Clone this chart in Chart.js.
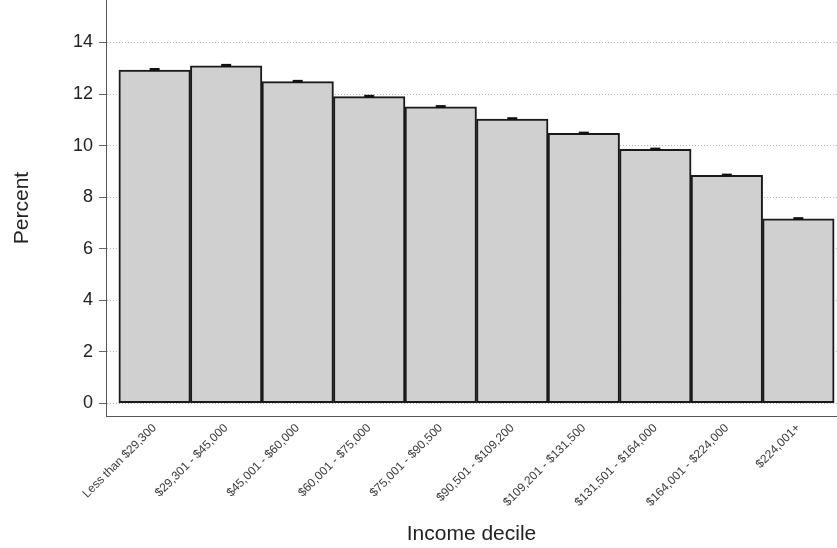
<!DOCTYPE html>
<html>
<head>
<meta charset="utf-8">
<script src="https://cdn.jsdelivr.net/npm/chart.js@4"></script>
<style>
  html, body { margin: 0; padding: 0; background: #fff; }
  #wrap { width: 837px; height: 548px; }
</style>
</head>
<body>
<div id="wrap"><canvas id="c" width="837" height="548"></canvas></div>
<script>
const categories = ["Less than $29,300", "$29,301 - $45,000", "$45,001 - $60,000", "$60,001 - $75,000",
  "$75,001 - $90,500", "$90,501 - $109,200", "$109,201 - $131,500", "$131,501 - $164,000",
  "$164,001 - $224,000", "$224,001+"];
const percentValues = [12.93, 13.09, 12.48, 11.90, 11.50, 11.03, 10.47, 9.85, 8.84, 7.15];
const errorValues = [0.06, 0.06, 0.05, 0.05, 0.05, 0.05, 0.05, 0.05, 0.05, 0.05];
const yTicks = [0, 2, 4, 6, 8, 10, 12, 14];

const FONT = "'Liberation Sans', Arial, sans-serif";

const errorBarPlugin = {
  id: 'errorBars',
  afterDatasetsDraw(chart) {
    const ctx = chart.ctx;
    const xs = chart.scales.x, ys = chart.scales.y;
    ctx.save();
    ctx.fillStyle = '#111';
    percentValues.forEach((v, i) => {
      const x = xs.getPixelForValue(i);
      const yTop = ys.getPixelForValue(v + errorValues[i]);
      const yBot = ys.getPixelForValue(v - errorValues[i]);
      ctx.fillRect(x - 5, yTop - 0.5, 10, Math.max(2.5, yBot - yTop));
    });
    ctx.restore();
  }
};

new Chart(document.getElementById('c'), {
  type: 'bar',
  data: {
    datasets: [{
      data: percentValues.map((v, i) => ({ x: i, y: v })),
      backgroundColor: '#d0d0d0',
      borderColor: '#1a1a1a',
      borderWidth: 2,
      borderSkipped: false,
      barPercentage: 1.0,
      categoryPercentage: 1.0
    }]
  },
  options: {
    responsive: false,
    animation: false,
    devicePixelRatio: 1,
    layout: { padding: 0 },
    plugins: { legend: { display: false }, tooltip: { enabled: false } },
    scales: {
      x: {
        type: 'linear',
        min: -0.68,
        max: 9.54,
        offset: false,
        grid: { display: false, drawTicks: false, offset: false },
        border: { display: true, color: '#555', width: 1 },
        afterBuildTicks: s => { s.ticks = categories.map((_, i) => ({ value: i })); },
        afterFit: s => { s.height = 132; s.paddingLeft = 0; s.paddingRight = 0; },
        ticks: {
          autoSkip: false,
          maxRotation: 45,
          minRotation: 45,
          padding: 5,
          color: '#3a3a3a',
          font: { family: FONT, size: 12 },
          callback: v => categories[Math.round(v)]
        },
        title: {
          display: true,
          text: 'Income decile',
          color: '#222',
          font: { family: FONT, size: 21 },
          padding: { top: 0, bottom: 1 }
        }
      },
      y: {
        min: -0.5,
        max: 15.65,
        afterBuildTicks: s => { s.ticks = yTicks.map(v => ({ value: v })); },
        afterFit: s => { s.width = 106; s.paddingTop = 0; s.paddingBottom = 0; },
        grid: {
          color: '#b5b5b5',
          lineWidth: 1,
          drawTicks: true,
          tickLength: 7,
          tickColor: '#666',
          tickBorderDash: []
        },
        border: { display: true, color: '#555', width: 1, dash: [1, 2] },
        ticks: {
          padding: 6,
          color: '#222',
          font: { family: FONT, size: 18 }
        },
        title: {
          display: true,
          text: 'Percent',
          color: '#222',
          font: { family: FONT, size: 21 },
          padding: { top: 10, bottom: 0 }
        }
      }
    }
  },
  plugins: [errorBarPlugin]
});
</script>
</body>
</html>
